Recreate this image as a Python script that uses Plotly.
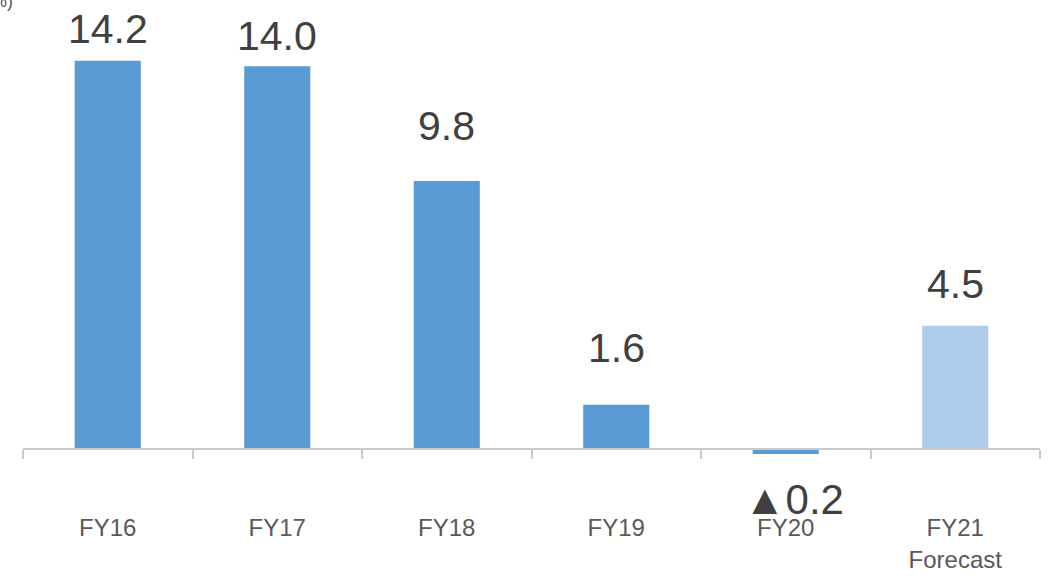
import plotly.graph_objects as go

categories = ["FY16", "FY17", "FY18", "FY19", "FY20", "FY21"]
tick_labels = ["FY16", "FY17", "FY18", "FY19", "FY20", "FY21<br>Forecast"]
values = [14.2, 14.0, 9.8, 1.6, -0.2, 4.5]
bar_colors = ["#5B9BD5", "#5B9BD5", "#5B9BD5", "#5B9BD5", "#5B9BD5", "#AECDEB"]
# vertical pixel offsets of the value labels (style, as placed in the original)
label_shift = [7, 5, 30, 32, -20, 17]

W, H = 1054, 583
ml, mr, mt, mb = 23, 14, 0, 0
plot_w = W - ml - mr
plot_h = H - mt - mb
zero_px = 448.5          # y pixel of the zero line
px_per_unit = 27.3
ymax = (zero_px - mt) / px_per_unit
ymin = -(H - mb - zero_px) / px_per_unit
axis_pos = (-ymin) / (ymax - ymin)

FONT = "Liberation Sans, Arial, sans-serif"

fig = go.Figure()
fig.add_trace(go.Bar(
    x=categories, y=values, marker=dict(color=bar_colors, line=dict(width=0)),
    width=0.39, hoverinfo="skip",
))

def fmt(v):
    return f"{v:.1f}" if v >= 0 else f"▲{abs(v):.1f}"

for c, v, s in zip(categories, values, label_shift):
    if v >= 0:
        fig.add_annotation(x=c, y=v, text=fmt(v), showarrow=False, yanchor="bottom",
                           yshift=s, font=dict(family=FONT, size=41, color="#404040"))
    else:
        fig.add_annotation(x=c, y=v, text=fmt(v), showarrow=False, yanchor="top",
                           yshift=s, xshift=8, font=dict(family=FONT, size=42, color="#404040"))

# cut-off unit label fragment at top-left corner
fig.add_annotation(xref="paper", yref="paper", x=(15 - ml) / plot_w, y=(H - mb - 1) / plot_h,
                   text="%)", showarrow=False, xanchor="right", yanchor="middle",
                   font=dict(family=FONT, size=18, color="#595959"))

fig.update_layout(
    width=W, height=H,
    margin=dict(l=ml, r=mr, t=mt, b=mb),
    paper_bgcolor="white", plot_bgcolor="white",
    showlegend=False,
    xaxis=dict(
        type="category", tickmode="array", tickvals=categories, ticktext=tick_labels,
        anchor="free", position=axis_pos,
        showline=True, linecolor="#C9C9C9", linewidth=2,
        ticks="outside", tickson="boundaries", ticklen=9, tickwidth=2, tickcolor="#C9C9C9",
        ticklabelstandoff=58,
        tickfont=dict(family=FONT, size=24, color="#595959"),
        showgrid=False, zeroline=False, automargin=False,
        range=[-0.5, 5.5],
    ),
    yaxis=dict(range=[ymin, ymax], visible=False, showgrid=False, zeroline=False),
)

fig.write_html("out.html", config={"displayModeBar": False},
               post_script="document.body.style.margin='0';")
